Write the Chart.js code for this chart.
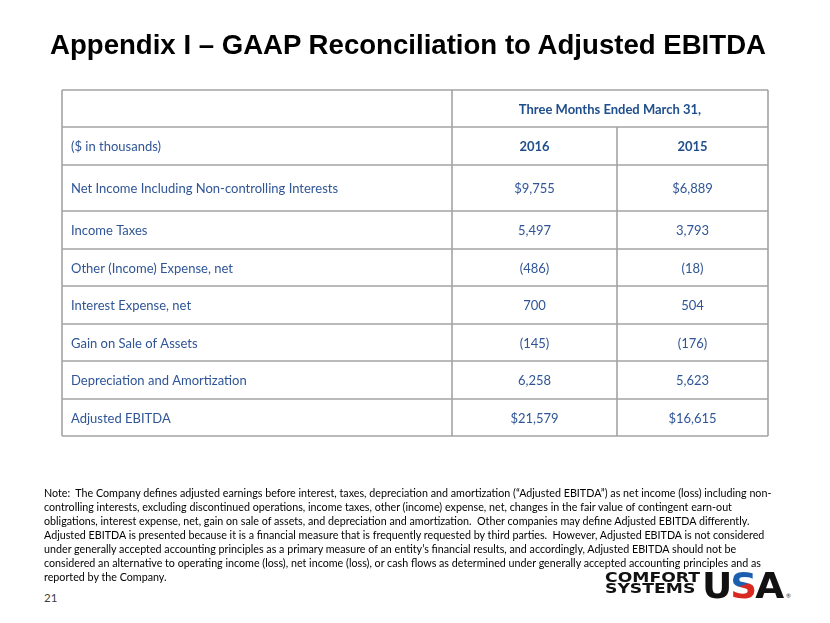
<!DOCTYPE html>
<html>
<head>
    <title>Appendix I – GAAP Reconciliation to Adjusted EBITDA</title>
    <style>
        body {
            margin: 0;
            padding: 0;
            width: 830px;
            height: 623px;
            overflow: hidden;
            position: relative;
            background-color: #fff;
            font-family: Lato, "Noto Sans", sans-serif;
        }

        #title {
            position: absolute;
            left: 50px;
            top: 29px;
            font-family: "Liberation Sans", Arial, sans-serif;
            font-weight: bold;
            font-size: 28px;
            color: #000;
            white-space: nowrap;
            transform-origin: left top;
        }

        #tableBox {
            position: absolute;
            left: 58px;
            top: 86px;
            width: 714px;
            height: 354px;
        }

        #note {
            position: absolute;
            left: 44px;
            top: 486px;
            font-size: 11.5px;
            line-height: 14px;
            color: #000;
            white-space: nowrap;
            transform-origin: left top;
        }

        #page {
            position: absolute;
            left: 44px;
            top: 591px;
            font-size: 11.5px;
            color: #404040;
        }

        #logo {
            position: absolute;
            left: 605px;
            top: 571px;
            height: 32px;
        }

        #logo .cs {
            position: absolute;
            left: 0;
            top: 1px;
            font-family: "DejaVu Sans", sans-serif;
            font-weight: bold;
            font-size: 13.5px;
            line-height: 11px;
            color: #111;
            white-space: nowrap;
            transform-origin: left top;
        }

        #logo .usa {
            position: absolute;
            left: 97px;
            top: -1px;
            font-family: "DejaVu Sans", sans-serif;
            font-weight: bold;
            font-size: 36px;
            line-height: 32px;
            color: #111;
            letter-spacing: -2px;
            white-space: nowrap;
            transform-origin: left top;
        }

        #logo .usa .s {
            background: linear-gradient(160deg, #1b5fae 48%, #d8281f 52%);
            -webkit-background-clip: text;
            background-clip: text;
            color: transparent;
        }

        #logo .reg {
            position: absolute;
            left: 181px;
            top: 21px;
            font-size: 6px;
            color: #333;
        }
    </style>
    <script src="https://cdn.jsdelivr.net/npm/chart.js"></script>
</head>
<body>
    <span id="title">Appendix I – GAAP Reconciliation to Adjusted EBITDA</span>

    <div id="tableBox">
        <canvas id="reconChart"></canvas>
    </div>

    <div id="note">
        Note:&nbsp; The Company defines adjusted earnings before interest, taxes, depreciation and amortization (“Adjusted EBITDA”) as net income (loss) including non-<br>
        controlling interests, excluding discontinued operations, income taxes, other (income) expense, net, changes in the fair value of contingent earn-out<br>
        obligations, interest expense, net, gain on sale of assets, and depreciation and amortization.&nbsp; Other companies may define Adjusted EBITDA differently.<br>
        Adjusted EBITDA is presented because it is a financial measure that is frequently requested by third parties.&nbsp; However, Adjusted EBITDA is not considered<br>
        under generally accepted accounting principles as a primary measure of an entity’s financial results, and accordingly, Adjusted EBITDA should not be<br>
        considered an alternative to operating income (loss), net income (loss), or cash flows as determined under generally accepted accounting principles and as<br>
        reported by the Company.
    </div>

    <div id="page">21</div>

    <div id="logo">
        <div class="cs" id="csText">COMFORT<br>SYSTEMS</div>
        <div class="usa" id="usaText">U<span class="s">S</span>A</div>
        <div class="reg">®</div>
    </div>

    <script>
        // table content
        const periodHeader = "Three Months Ended March 31,";
        const unitLabel = "($ in thousands)";
        const years = ["2016", "2015"];
        const rowLabels = [
            "Net Income Including Non-controlling Interests",
            "Income Taxes",
            "Other (Income) Expense, net",
            "Interest Expense, net",
            "Gain on Sale of Assets",
            "Depreciation and Amortization",
            "Adjusted EBITDA"
        ];
        const values2016 = [9755, 5497, -486, 700, -145, 6258, 21579];
        const values2015 = [6889, 3793, -18, 504, -176, 5623, 16615];
        const dollarRows = [0, 6]; // rows shown with a $ sign

        // table layout (in scale units)
        const colEdges = [0, 390, 555, 706];
        const rowEdges = [0, 37, 75, 121, 159, 196, 234, 271, 309, 346];

        const textColor = "#2f5597";
        const headColor = "#1f4e8c";
        const lineColor = "#a3a3a3";

        function fmt(v, i) {
            let s = Math.abs(v).toLocaleString("en-US");
            if (dollarRows.includes(i)) s = "$" + s;
            return v < 0 ? "(" + s + ")" : s;
        }

        const mid = (a, b) => (a + b) / 2;
        const col2 = mid(colEdges[1], colEdges[2]);
        const col3 = mid(colEdges[2], colEdges[3]);
        const bodyY = i => mid(rowEdges[i + 2], rowEdges[i + 3]);

        const datasets = [
            {
                label: "header",
                texts: [periodHeader, unitLabel, years[0], years[1]],
                bold: [true, false, true, true],
                align: ["center", "left", "center", "center"],
                data: [
                    { x: mid(colEdges[1], colEdges[3]), y: mid(rowEdges[0], rowEdges[1]) },
                    { x: colEdges[0] + 9, y: mid(rowEdges[1], rowEdges[2]) },
                    { x: col2, y: mid(rowEdges[1], rowEdges[2]) },
                    { x: col3, y: mid(rowEdges[1], rowEdges[2]) }
                ]
            },
            {
                label: "rows",
                texts: rowLabels,
                align: rowLabels.map(() => "left"),
                data: rowLabels.map((l, i) => ({ x: colEdges[0] + 9, y: bodyY(i) }))
            },
            {
                label: years[0],
                texts: values2016.map(fmt),
                align: values2016.map(() => "center"),
                data: values2016.map((v, i) => ({ x: col2, y: bodyY(i) }))
            },
            {
                label: years[1],
                texts: values2015.map(fmt),
                align: values2015.map(() => "center"),
                data: values2015.map((v, i) => ({ x: col3, y: bodyY(i) }))
            }
        ];

        // draws the cell borders and the cell texts
        const tablePlugin = {
            id: "tableCells",
            afterDatasetsDraw(chart) {
                const ctx = chart.ctx;
                const xs = chart.scales.x;
                const ys = chart.scales.y;
                ctx.save();
                ctx.strokeStyle = lineColor;
                ctx.lineWidth = 1.6;
                const line = (x0, y0, x1, y1) => {
                    ctx.beginPath();
                    ctx.moveTo(xs.getPixelForValue(x0), ys.getPixelForValue(y0));
                    ctx.lineTo(xs.getPixelForValue(x1), ys.getPixelForValue(y1));
                    ctx.stroke();
                };
                rowEdges.forEach(r => line(colEdges[0], r, colEdges[3], r));
                line(colEdges[0], rowEdges[0], colEdges[0], rowEdges[rowEdges.length - 1]);
                line(colEdges[1], rowEdges[0], colEdges[1], rowEdges[rowEdges.length - 1]);
                line(colEdges[2], rowEdges[1], colEdges[2], rowEdges[rowEdges.length - 1]);
                line(colEdges[3], rowEdges[0], colEdges[3], rowEdges[rowEdges.length - 1]);

                ctx.textBaseline = "middle";
                chart.data.datasets.forEach((ds, di) => {
                    const meta = chart.getDatasetMeta(di);
                    meta.data.forEach((pt, i) => {
                        const bold = ds.bold && ds.bold[i];
                        ctx.font = (bold ? "bold " : "") + "13px Lato, 'Noto Sans', sans-serif";
                        ctx.fillStyle = bold ? headColor : textColor;
                        ctx.textAlign = ds.align[i];
                        ctx.fillText(ds.texts[i], pt.x, pt.y + 1);
                    });
                });
                ctx.restore();
            }
        };

        new Chart(document.getElementById("reconChart"), {
            type: "scatter",
            data: { datasets: datasets },
            options: {
                responsive: true,
                maintainAspectRatio: false,
                animation: false,
                events: [],
                layout: { padding: 4 },
                elements: { point: { radius: 0 } },
                plugins: {
                    legend: { display: false },
                    tooltip: { enabled: false }
                },
                scales: {
                    x: { type: "linear", min: colEdges[0], max: colEdges[3], display: false },
                    y: { type: "linear", min: rowEdges[0], max: rowEdges[rowEdges.length - 1], reverse: true, display: false }
                }
            },
            plugins: [tablePlugin]
        });

        // squeeze text blocks to the widths seen on the slide
        function fitWidth(el, target) {
            const w = el.getBoundingClientRect().width;
            el.style.transform = "scaleX(" + (target / w) + ")";
        }
        fitWidth(document.getElementById("title"), 716);
        const note = document.getElementById("note");
        const probe = document.createElement("canvas").getContext("2d");
        probe.font = "11.5px Lato, 'Noto Sans', sans-serif";
        const firstLine = "Note:  The Company defines adjusted earnings before interest, taxes, depreciation and amortization (“Adjusted EBITDA”) as net income (loss) including non-";
        note.style.transform = "scaleX(" + (728 / probe.measureText(firstLine).width) + ")";
        fitWidth(document.getElementById("csText"), 95);
        fitWidth(document.getElementById("usaText"), 80);
    </script>
</body>
</html>
